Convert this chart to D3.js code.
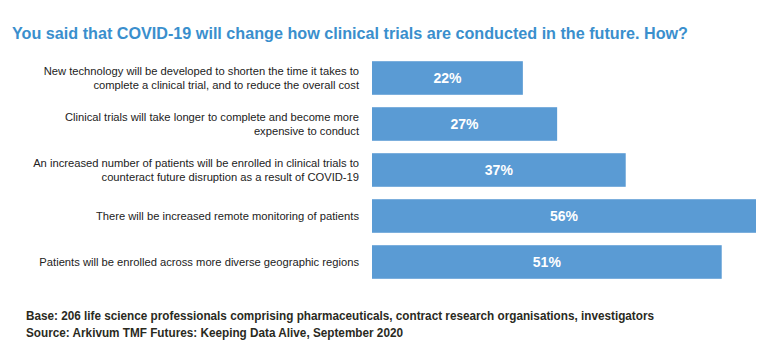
<!DOCTYPE html>
<html><head><meta charset="utf-8">
<script src="https://cdn.jsdelivr.net/npm/d3@7"></script>
<style>
body{margin:0;background:#fff;}
svg{display:block;}
</style></head>
<body>
<svg id="c" width="768" height="357"></svg>
<script>
const titleText = "You said that COVID-19 will change how clinical trials are conducted in the future. How?";
const categories = [
  ["New technology will be developed to shorten the time it takes to", "complete a clinical trial, and to reduce the overall cost"],
  ["Clinical trials will take longer to complete and become more", "expensive to conduct"],
  ["An increased number of patients will be enrolled in clinical trials to", "counteract future disruption as a result of COVID-19"],
  ["There will be increased remote monitoring of patients"],
  ["Patients will be enrolled across more diverse geographic regions"]
];
const values = [22, 27, 37, 56, 51];
const footnotes = [
  "Base: 206 life science professionals comprising pharmaceuticals, contract research organisations, investigators",
  "Source: Arkivum TMF Futures: Keeping Data Alive, September 2020"
];
const footWidths = [628, 377];

const svg = d3.select("#c");
const x = d3.scaleLinear().domain([0, 56]).range([372, 756]);
const y = d3.scaleBand().domain(d3.range(values.length)).range([55, 285]).paddingInner(0.27).paddingOuter(0.135);

svg.append("text").attr("x", 12).attr("y", 39)
  .attr("font-family", "'Liberation Sans', Arial, sans-serif")
  .attr("font-weight", "bold").attr("font-size", 16.5).attr("fill", "#3a8fcd")
  .attr("textLength", 676).attr("lengthAdjust", "spacingAndGlyphs")
  .text(titleText);

svg.selectAll("rect.bar").data(values).join("rect").attr("class", "bar")
  .attr("x", x(0)).attr("y", (d, i) => y(i))
  .attr("width", d => x(d) - x(0)).attr("height", y.bandwidth())
  .attr("fill", "#5a9bd4");

svg.selectAll("text.val").data(values).join("text").attr("class", "val")
  .attr("x", d => (x(0) + x(d)) / 2).attr("y", (d, i) => y(i) + y.bandwidth() / 2 + 5)
  .attr("text-anchor", "middle").attr("font-family", "'Liberation Sans', Arial, sans-serif")
  .attr("font-weight", "bold").attr("font-size", 14).attr("fill", "#fff")
  .text(d => d + "%");

const lab = svg.selectAll("text.lab").data(categories).join("text").attr("class", "lab")
  .attr("text-anchor", "end").attr("font-family", "'Liberation Sans', Arial, sans-serif")
  .attr("font-size", 11.2).attr("fill", "#222");
lab.each(function(lines, i) {
  const t = d3.select(this);
  const cy = y(i) + y.bandwidth() / 2;
  const lh = 13.7;
  lines.forEach((ln, j) => {
    t.append("tspan").attr("x", 359)
      .attr("y", cy + (j - (lines.length - 1) / 2) * lh + 4)
      .text(ln);
  });
});

svg.selectAll("text.foot").data(footnotes).join("text").attr("class", "foot")
  .attr("x", 26).attr("y", (d, i) => 320 + i * 17)
  .attr("font-family", "'Liberation Sans', Arial, sans-serif")
  .attr("font-weight", "bold").attr("font-size", 12).attr("fill", "#2a2a1e")
  .attr("textLength", (d, i) => footWidths[i]).attr("lengthAdjust", "spacingAndGlyphs")
  .text(d => d);
</script>
</body></html>
